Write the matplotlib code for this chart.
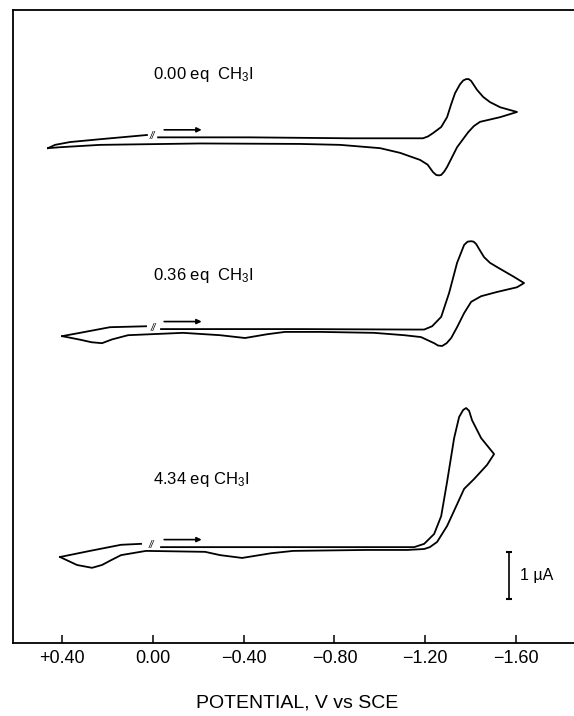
import matplotlib
matplotlib.use("Agg")
import matplotlib.pyplot as plt

plt.rcParams['font.family'] = ['Liberation Sans', 'DejaVu Sans']
plt.rcParams['mathtext.default'] = 'regular'

# cyclic voltammograms, current in uA above the bottom axis
labels = ['0.00 eq  CH$_3$I', '0.36 eq  CH$_3$I', '4.34 eq CH$_3$I']

# end of the scan (left tip back up to the break mark)
tail_v = [
    [0.462, 0.431, 0.365, 0.233, 0.026],
    [0.400, 0.321, 0.189, 0.030],
    [0.409, 0.277, 0.140, 0.052],
]
tail_i = [
    [10.53, 10.60, 10.66, 10.72, 10.81],
    [6.53, 6.60, 6.72, 6.74],
    [1.83, 1.96, 2.09, 2.11],
]

# forward scan from the break, switching point, return scan to the left tip
scan_v = [
    [-0.023, -0.428, -0.869, -1.150, -1.190, -1.212, -1.234, -1.270, -1.296, -1.313,
     -1.331, -1.353, -1.367, -1.380, -1.391, -1.402, -1.428, -1.455, -1.485, -1.530,
     -1.604, -1.530, -1.441, -1.414, -1.389, -1.340, -1.296, -1.283, -1.270, -1.259,
     -1.248, -1.234, -1.210, -1.177, -1.089, -1.001, -0.825, -0.648, -0.208, 0.233,
     0.409, 0.462],
    [-0.036, -0.648, -1.150, -1.195, -1.230, -1.270, -1.305, -1.340, -1.371, -1.386,
     -1.402, -1.413, -1.424, -1.440, -1.459, -1.485, -1.516, -1.591, -1.635, -1.604,
     -1.516, -1.446, -1.402, -1.371, -1.340, -1.314, -1.294, -1.274, -1.256, -1.239,
     -1.181, -1.107, -0.974, -0.737, -0.582, -0.503, -0.406, -0.296, -0.133, 0.109,
     0.180, 0.224, 0.270, 0.316, 0.400],
    [-0.036, -0.648, -1.151, -1.195, -1.239, -1.270, -1.296, -1.327, -1.349, -1.367,
     -1.380, -1.393, -1.406, -1.446, -1.503, -1.472, -1.415, -1.371, -1.336, -1.296,
     -1.252, -1.220, -1.195, -1.120, -0.939, -0.618, -0.521, -0.393, -0.296, -0.230,
     0.030, 0.140, 0.185, 0.224, 0.268, 0.334, 0.409],
]
scan_i = [
    [10.76, 10.76, 10.74, 10.74, 10.74, 10.78, 10.85, 10.98, 11.19, 11.45,
     11.70, 11.89, 11.97, 12.00, 12.00, 11.96, 11.77, 11.62, 11.51, 11.40,
     11.30, 11.19, 11.09, 11.00, 10.87, 10.55, 10.13, 10.03, 9.96, 9.95,
     9.96, 10.02, 10.18, 10.28, 10.43, 10.53, 10.60, 10.62, 10.63, 10.60,
     10.55, 10.53],
    [6.68, 6.68, 6.67, 6.67, 6.74, 6.94, 7.45, 8.09, 8.47, 8.54,
     8.55, 8.54, 8.49, 8.36, 8.21, 8.09, 8.00, 7.79, 7.66, 7.57,
     7.47, 7.38, 7.26, 7.02, 6.72, 6.49, 6.38, 6.32, 6.33, 6.38,
     6.51, 6.55, 6.60, 6.62, 6.62, 6.57, 6.49, 6.55, 6.60, 6.55,
     6.46, 6.38, 6.40, 6.45, 6.53],
    [2.04, 2.04, 2.04, 2.11, 2.32, 2.70, 3.43, 4.36, 4.81, 4.96,
     5.00, 4.94, 4.74, 4.36, 4.02, 3.79, 3.49, 3.28, 2.91, 2.49,
     2.15, 2.04, 2.00, 1.98, 1.98, 1.96, 1.91, 1.81, 1.87, 1.94,
     1.96, 1.87, 1.76, 1.66, 1.60, 1.66, 1.83],
]
label_i = [12.10, 7.83, 3.47]

tick_v = [0.40, 0.00, -0.40, -0.80, -1.20, -1.60]
tick_labels = ['+0.40', '0.00', '\u22120.40', '\u22120.80', '\u22121.20', '\u22121.60']

fig = plt.figure(figsize=(5.74, 7.16), dpi=100)
ax = fig.add_axes([13 / 574, 1 - 643 / 716, 1 - 13 / 574, (643 - 10) / 716])

for k in range(3):
    ax.plot(tail_v[k], tail_i[k], color='black', lw=1.3, solid_joinstyle='round')
    ax.plot(scan_v[k], scan_i[k], color='black', lw=1.3, solid_joinstyle='round')
    # break mark where the scan starts
    vb = (tail_v[k][-1] + scan_v[k][0]) / 2
    ib = (tail_i[k][-1] + scan_i[k][0]) / 2
    ax.text(vb, ib, '//', fontsize=7, ha='center', va='center', style='italic')
    # scan direction arrow
    ax.annotate('', xy=(-0.215, scan_i[k][0] + 0.16), xytext=(-0.05, scan_i[k][0] + 0.16),
                arrowprops=dict(arrowstyle='-|>', color='black', lw=1.2,
                                mutation_scale=7, shrinkA=0, shrinkB=0))
    ax.text(-0.002, label_i[k], labels[k], fontsize=12, ha='left', va='center')

# 1 uA scale bar
ax.plot([-1.569, -1.569], [0.94, 1.94], color='black', lw=1.2, marker='_', ms=4, mew=1.5)
ax.text(-1.618, 1.43, '1 \u00b5A', fontsize=11.5, ha='left', va='center')

ax.set_xlim(0.616, -1.855)
ax.set_ylim(0, 13.47)
ax.set_xticks(tick_v)
ax.set_xticklabels(tick_labels, fontsize=13)
ax.set_yticks([])
ax.tick_params(axis='x', direction='in', length=6, width=1.1, pad=5)
ax.spines['right'].set_visible(False)
for s in ['left', 'top', 'bottom']:
    ax.spines[s].set_linewidth(1.3)

fig.text(297 / 574, 1 - 703 / 716, 'POTENTIAL, V vs SCE', fontsize=14,
         ha='center', va='center')

fig.savefig('out.png', dpi=100)
